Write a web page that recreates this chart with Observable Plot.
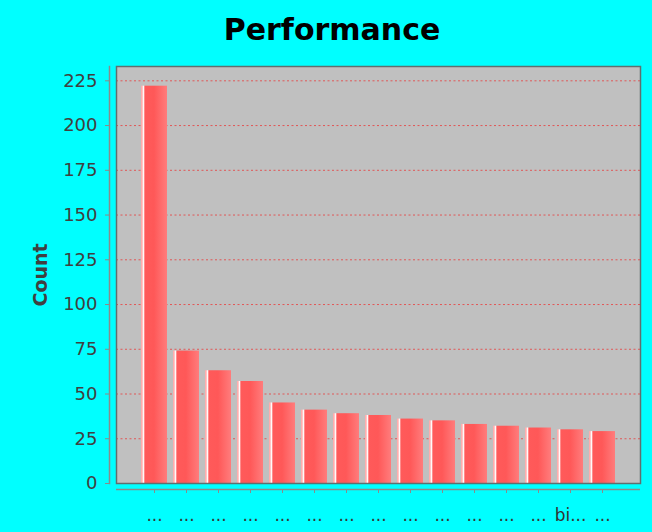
<!DOCTYPE html>
<html>
<head>
<meta charset="utf-8">
<script src="https://cdn.jsdelivr.net/npm/d3@7"></script>
<script src="https://cdn.jsdelivr.net/npm/@observablehq/plot@0.6"></script>
<style>
  html, body { margin: 0; padding: 0; background: #00ffff; }
  body { width: 652px; height: 532px; overflow: hidden; font-family: "DejaVu Sans", sans-serif; }
  #title { height: 60px; line-height: 60px; font-size: 30px; font-weight: bold; text-align: center; color: #000; padding-left: 12px; box-sizing: border-box; }
  svg { display: block; }
</style>
</head>
<body>
<div id="title">Performance</div>
<div id="chart"></div>
<script>
const categoryIds = ["c01","c02","c03","c04","c05","c06","c07","c08","c09","c10","c11","c12","c13","c14","c15"];
const tickLabels = ["...","...","...","...","...","...","...","...","...","...","...","...","...","bi...","..."];
const counts = [222, 74, 63, 57, 45, 41, 39, 38, 36, 35, 33, 32, 31, 30, 29];
const yTicks = [0, 25, 50, 75, 100, 125, 150, 175, 200, 225];
const yLabel = "Count";

const data = categoryIds.map((id, i) => ({id, label: tickLabels[i], count: counts[i]}));
const labelOf = new Map(data.map(d => [d.id, d.label]));

const plot = Plot.plot({
  width: 652,
  height: 472,
  marginTop: 6,
  marginBottom: 49,
  marginLeft: 116,
  marginRight: 12,
  style: {background: "transparent", fontFamily: "DejaVu Sans, sans-serif"},
  x: {domain: categoryIds, paddingInner: 0.2, paddingOuter: 0.76},
  y: {domain: [0, 233]},
  marks: [
    Plot.frame({fill: "#c0c0c0"}),
    Plot.gridY(yTicks.filter(t => t > 0), {stroke: "#e83c3c", strokeOpacity: 0.8, strokeDasharray: "2,2.5"}),
    Plot.barY(data, {x: "id", y: "count", fill: "url(#barGrad)"}),
    Plot.frame({stroke: "#5f6f6f", strokeWidth: 1.5}),
    Plot.frame({anchor: "left", dx: -7, stroke: "#8a8a8a", strokeWidth: 1.5}),
    Plot.ruleY([0], {dy: 6, stroke: "#8a8a8a", strokeWidth: 1.5}),
    Plot.axisY(yTicks, {tickSize: 4, dx: -7, tickPadding: 8, fontSize: 18, color: "#404040", stroke: "#8a8a8a", label: null}),
    Plot.axisX({tickSize: 4, dy: 6, tickPadding: 15, fontSize: 17, color: "#333", stroke: "#8a8a8a", label: null, tickFormat: d => labelOf.get(d)}),
    Plot.text([yLabel], {frameAnchor: "left", dx: -76, rotate: -90, textAnchor: "middle", lineAnchor: "middle", fontSize: 19, fontWeight: "bold", fill: "#404040"})
  ]
});

const ns = "http://www.w3.org/2000/svg";
const defs = document.createElementNS(ns, "defs");
const grad = document.createElementNS(ns, "linearGradient");
grad.setAttribute("id", "barGrad");
grad.setAttribute("x1", "0"); grad.setAttribute("x2", "1");
grad.setAttribute("y1", "0"); grad.setAttribute("y2", "0");
[[0, "#ffa0a0"], [0.06, "#ffc8c8"], [0.1, "#ffffff"], [0.15, "#ff5a5a"], [0.5, "#ff5858"], [1, "#ff7c7c"]].forEach(([o, c]) => {
  const s = document.createElementNS(ns, "stop");
  s.setAttribute("offset", o);
  s.setAttribute("stop-color", c);
  grad.appendChild(s);
});
defs.appendChild(grad);
plot.insertBefore(defs, plot.firstChild);
document.getElementById("chart").appendChild(plot);
</script>
</body>
</html>
